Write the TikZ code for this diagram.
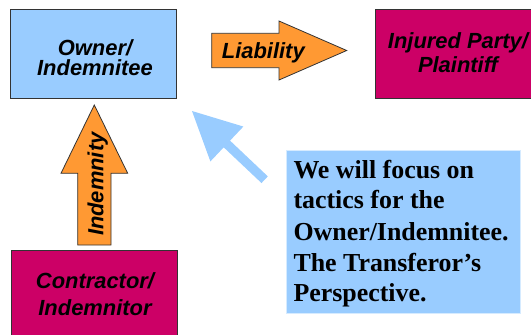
\documentclass[tikz,border=0pt]{standalone}
\usepackage{fontspec}
\setmainfont{Liberation Serif}
\newfontfamily\labelfont{Liberation Sans}
\definecolor{skyblue}{HTML}{99CCFF}
\definecolor{berry}{HTML}{CC0066}
\definecolor{amber}{HTML}{FF9933}
\definecolor{edge}{HTML}{333333}
\definecolor{paleedge}{HTML}{D6EBFF}
\tikzset{
  partybox/.style={draw=edge, line width=1bp, minimum width=166.3bp, minimum height=89bp, inner sep=0pt},
  lbl/.style={font=\labelfont\bfseries\itshape\fontsize{22}{26}\selectfont, inner sep=0pt, anchor=base},
  notetext/.style={font=\bfseries\fontsize{26}{31}\selectfont, inner sep=0pt, anchor=base west},
  bigarrow/.style={draw=edge, line width=0.8bp, fill=amber, line join=miter},
  pointer/.style={fill=skyblue, draw=none}
}
\begin{document}
\begin{tikzpicture}[x=1bp,y=-1bp]
\useasboundingbox (0,0) rectangle (531,334);
\clip (0,0) rectangle (531,334);

% the three parties
\node[partybox, fill=skyblue] (owner) at (93.8,53.8) {};
\node[partybox, fill=berry] (injured) at (458.3,53.8) {};
\node[partybox, fill=berry] (contractor) at (94.3,295.2) {};

\node[lbl] (owner-a) at (95,55.8) {Owner/};
\node[lbl] (owner-b) at (95,75.6) {Indemnitee};
\node[lbl] (injured-a) at (458,48.3) {Injured Party/};
\node[lbl] (injured-b) at (458,72.7) {Plaintiff};
\node[lbl] (contractor-a) at (95,288) {Contractor/};
\node[lbl] (contractor-b) at (95,315) {Indemnitor};

% liability block arrow
\coordinate (liab-tail) at (211.7,50.5);
\coordinate (liab-tip) at (346.7,50.5);
\draw[bigarrow] (211.7,33.3) -- (279,33.3) -- (279,21) -- (liab-tip)
  -- (279,80) -- (279,67.7) -- (211.7,67.7) -- cycle;
\node[lbl] (liab-text) at (263.3,58.3) {Liability};

% indemnity block arrow
\coordinate (ind-tail) at (94.3,245);
\coordinate (ind-tip) at (94.3,105);
\draw[bigarrow] (77.7,245) -- (77.7,173.3) -- (61,173.3) -- (ind-tip)
  -- (127.7,173.3) -- (111,173.3) -- (111,245) -- cycle;
\node[lbl, rotate=90] (ind-text) at (103.3,184.2) {Indemnity};

% note box
\node[fill=skyblue, draw=paleedge, line width=0.8bp, minimum width=234bp, minimum height=163bp, inner sep=0pt] (note) at (403,231.5) {};
\node[notetext] (note-1) at (293.3,178.3) {We will focus on};
\node[notetext] (note-2) at (293.3,208.6) {tactics for the};
\node[notetext] (note-3) at (293.3,240) {Owner/Indemnitee.};
\node[notetext] (note-4) at (293.3,271.5) {The Transferor’s};
\node[notetext] (note-5) at (293.3,301.7) {Perspective.};

% pointer from the note towards the owner
\begin{scope}[shift={(192,111)}, rotate=-43.4]
  \coordinate (ptr-tip) at (0,0);
  \coordinate (ptr-tail) at (100,0);
  \fill[pointer] (ptr-tip) -- (48,24) -- (48,4.6) -- (100,4.6) -- (100,-4.6)
    -- (48,-4.6) -- (48,-24) -- cycle;
\end{scope}
\end{tikzpicture}
\end{document}
